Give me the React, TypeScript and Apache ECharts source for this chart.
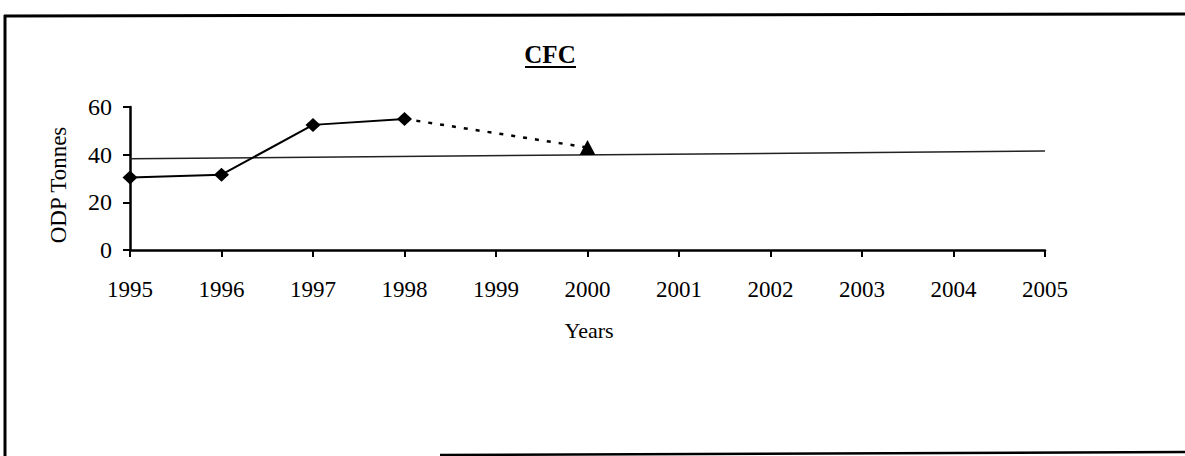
import React, { useEffect, useRef } from "react";
import * as echarts from "echarts";

const years: number[] = [1995, 1996, 1997, 1998];
const actual: number[] = [30.4, 31.6, 52.5, 55];
const projYears: number[] = [1998, 2000];
const projected: number[] = [55, 43];
const limitYears: number[] = [1995, 2005];
const limitValues: number[] = [38.3, 41.5];
const yTicks: number[] = [0, 20, 40, 60];

const FONT = "'Liberation Serif', 'Times New Roman', serif";

export default function App() {
  const ref = useRef<HTMLDivElement>(null);
  useEffect(() => {
    if (!ref.current) return;
    const chart = echarts.init(ref.current, null, { renderer: "svg" });
    chart.setOption({
      animation: false,
      backgroundColor: "#ffffff",
      textStyle: { fontFamily: FONT, color: "#000" },
      grid: { left: 130, right: 140, top: 107, bottom: 206, containLabel: false },
      xAxis: {
        type: "value",
        min: 1995,
        max: 2005,
        interval: 1,
        axisLine: { show: true, onZero: false, lineStyle: { color: "#000", width: 2.5 } },
        axisTick: { show: true, inside: false, length: 7, lineStyle: { color: "#000", width: 2 } },
        axisLabel: {
          margin: 28,
          fontSize: 23,
          fontFamily: FONT,
          color: "#000",
          formatter: (v: number) => String(v),
        },
        splitLine: { show: false },
      },
      yAxis: {
        type: "value",
        min: yTicks[0],
        max: yTicks[yTicks.length - 1],
        interval: 20,
        axisLine: { show: true, lineStyle: { color: "#000", width: 2.5 } },
        axisTick: { show: true, inside: false, length: 7, lineStyle: { color: "#000", width: 2 } },
        axisLabel: { margin: 18, fontSize: 24, fontFamily: FONT, color: "#000" },
        splitLine: { show: false },
      },
      series: [
        {
          type: "line",
          data: limitYears.map((y, i) => [y, limitValues[i]]),
          symbol: "none",
          lineStyle: { color: "#222", width: 1.5 },
          z: 1,
        },
        {
          type: "line",
          data: projYears.map((y, i) =>
            i === 0 ? { value: [y, projected[i]], symbol: "none" } : { value: [y, projected[i]] }
          ),
          symbol: "triangle",
          symbolSize: [16, 15],
          itemStyle: { color: "#000" },
          lineStyle: { color: "#000", width: 2.5, type: [4, 8] },
          z: 2,
        },
        {
          type: "line",
          data: years.map((y, i) => [y, actual[i]]),
          symbol: "diamond",
          symbolSize: [15, 14],
          itemStyle: { color: "#000" },
          lineStyle: { color: "#000", width: 2 },
          z: 3,
        },
      ],
      graphic: [
        {
          type: "text",
          x: 550,
          y: 54,
          style: {
            text: "CFC",
            font: `bold 25px ${FONT}`,
            fill: "#000",
            textAlign: "center",
            textVerticalAlign: "middle",
          },
        },
        { type: "rect", shape: { x: 525, y: 66, width: 51, height: 2 }, style: { fill: "#000" } },
        {
          type: "text",
          x: 58,
          y: 185,
          rotation: Math.PI / 2,
          style: {
            text: "ODP Tonnes",
            font: `23px ${FONT}`,
            fill: "#000",
            textAlign: "center",
            textVerticalAlign: "middle",
          },
        },
        {
          type: "text",
          x: 589,
          y: 330,
          style: {
            text: "Years",
            font: `22px ${FONT}`,
            fill: "#000",
            textAlign: "center",
            textVerticalAlign: "middle",
          },
        },
        { type: "line", shape: { x1: 4, y1: 16, x2: 1185, y2: 14 }, style: { stroke: "#000", lineWidth: 3 } },
        { type: "line", shape: { x1: 5, y1: 15, x2: 5, y2: 456 }, style: { stroke: "#000", lineWidth: 3 } },
        { type: "line", shape: { x1: 440, y1: 455, x2: 1185, y2: 452 }, style: { stroke: "#000", lineWidth: 2.5 } },
      ],
    });
    return () => chart.dispose();
  }, []);
  return (
    <div
      ref={ref}
      style={{ position: "fixed", left: 0, top: 0, width: 1185, height: 456, background: "#fff" }}
    />
  );
}
